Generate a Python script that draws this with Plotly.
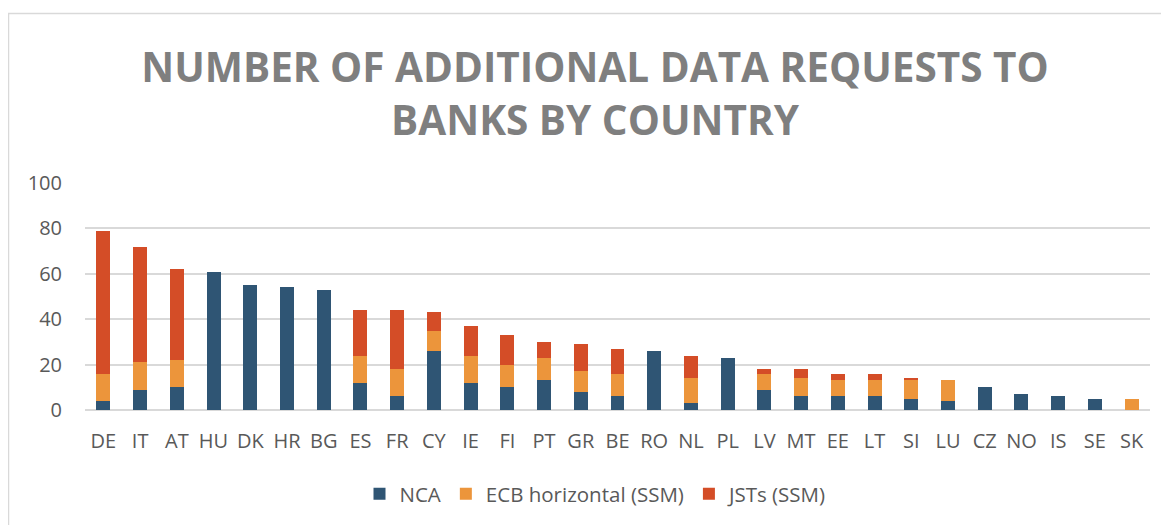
import plotly.graph_objects as go

countries = ["DE", "IT", "AT", "HU", "DK", "HR", "BG", "ES", "FR", "CY", "IE", "FI", "PT", "GR", "BE",
             "RO", "NL", "PL", "LV", "MT", "EE", "LT", "SI", "LU", "CZ", "NO", "IS", "SE", "SK"]
nca = [4, 9, 10, 61, 55, 54, 53, 12, 6, 26, 12, 10, 13, 8, 6, 26, 3, 23, 9, 6, 6, 6, 5, 4, 10, 7, 6, 5, 0]
ecb = [12, 12, 12, 0, 0, 0, 0, 12, 12, 9, 12, 10, 10, 9, 10, 0, 11, 0, 7, 8, 7, 7, 8, 9, 0, 0, 0, 0, 5]
jst = [63, 51, 40, 0, 0, 0, 0, 20, 26, 8, 13, 13, 7, 12, 11, 0, 10, 0, 2, 4, 3, 3, 1, 0, 0, 0, 0, 0, 0]
y_ticks = [0, 20, 40, 60, 80, 100]

fig = go.Figure()
fig.add_trace(go.Bar(name="NCA", x=countries, y=nca, marker_color="#2F5574", marker_line_width=0))
fig.add_trace(go.Bar(name="ECB horizontal (SSM)", x=countries, y=ecb, marker_color="#EC953B", marker_line_width=0))
fig.add_trace(go.Bar(name="JSTs (SSM)", x=countries, y=jst, marker_color="#D44D27", marker_line_width=0))

# page has an 8px body margin; work in figure coordinates (page - 8)
OFF = 8
W, H = 1169 - OFF, 525 - OFF
L, R, T, B = 85 - OFF, 1150 - OFF, 183 - OFF, 410 - OFF

def px_x(p):
    return (p - OFF - L) / (R - L)

def px_y(p):
    return (B - (p - OFF)) / (B - T)

fig.update_layout(
    width=W, height=H,
    barmode="stack",
    bargap=0.62,
    plot_bgcolor="white",
    paper_bgcolor="white",
    margin=dict(l=L, r=W - R, t=T, b=H - B),
    font=dict(family="Open Sans", color="#595959", size=20),
    title=dict(
        text="<b>NUMBER OF ADDITIONAL DATA REQUESTS TO<br>BANKS BY COUNTRY</b>",
        x=(595 - OFF) / W, xanchor="center", xref="container",
        y=1 - 74 / H, yanchor="top", yref="container",
        font=dict(family="Open Sans", size=40.5, color="#7F7F7F"),
    ),
    xaxis=dict(showgrid=False, showline=False, ticks="", automargin=False,
               tickfont=dict(size=20, color="#595959"), ticklabelstandoff=17),
    yaxis=dict(range=[0, 100], tickvals=y_ticks, showgrid=True, gridcolor="#D9D9D9", gridwidth=1.5,
               zeroline=True, zerolinecolor="#D9D9D9", zerolinewidth=1.5, showline=False, automargin=False,
               tickfont=dict(size=20, color="#595959"), ticklabelstandoff=22),
    legend=dict(orientation="h", x=(596 - OFF) / W, xanchor="center", xref="container",
                y=1 - 466 / H, yanchor="top", yref="container",
                font=dict(size=20.5, color="#595959"), itemwidth=30, traceorder="normal"),
    shapes=[dict(type="rect", xref="paper", yref="paper",
                 x0=px_x(8.5), x1=px_x(1185), y0=px_y(545), y1=px_y(13.5),
                 line=dict(color="#D9D9D9", width=1.5), fillcolor="rgba(0,0,0,0)", layer="below")],
)

fig.write_html("out.html")
